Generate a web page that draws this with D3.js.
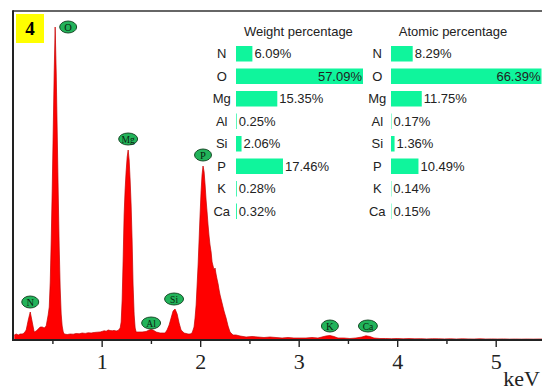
<!DOCTYPE html>
<html>
<head>
<meta charset="utf-8">
<script src="https://cdn.jsdelivr.net/npm/d3@7/dist/d3.min.js"></script>
<style>
  html, body { margin: 0; padding: 0; background: #fff; }
  svg { display: block; }
</style>
</head>
<body>
<svg id="chart" width="542" height="390"></svg>
<script>
// EDS spectrum: energy (keV) and counts
const spectrumKeV = [
  0.113, 0.133, 0.153, 0.173, 0.194, 0.214, 0.234, 0.255, 0.275, 0.295,
  0.315, 0.336, 0.356, 0.376, 0.397, 0.417, 0.437, 0.457, 0.468, 0.478,
  0.488, 0.498, 0.508, 0.518, 0.528, 0.539, 0.549, 0.559, 0.569, 0.579,
  0.589, 0.599, 0.610, 0.620, 0.650, 0.681, 0.711, 0.741, 0.772, 0.802,
  0.833, 0.863, 0.894, 0.924, 0.954, 0.985, 1.005, 1.025, 1.046, 1.066,
  1.086, 1.107, 1.127, 1.147, 1.167, 1.188, 1.198, 1.208, 1.218, 1.228,
  1.238, 1.248, 1.259, 1.269, 1.279, 1.289, 1.299, 1.309, 1.319, 1.330,
  1.340, 1.350, 1.370, 1.411, 1.451, 1.482, 1.502, 1.522, 1.553, 1.593,
  1.624, 1.644, 1.664, 1.685, 1.705, 1.725, 1.745, 1.766, 1.786, 1.806,
  1.837, 1.877, 1.898, 1.918, 1.938, 1.948, 1.959, 1.969, 1.979, 1.989,
  1.999, 2.009, 2.019, 2.029, 2.040, 2.050, 2.060, 2.070, 2.080, 2.090,
  2.100, 2.111, 2.121, 2.131, 2.141, 2.151, 2.161, 2.171, 2.182, 2.192,
  2.202, 2.222, 2.242, 2.263, 2.283, 2.303, 2.334, 2.364, 2.405, 2.466,
  2.526, 2.587, 2.648, 2.709, 2.770, 2.831, 2.892, 2.952, 3.013, 3.074,
  3.135, 3.196, 3.236, 3.277, 3.317, 3.358, 3.399, 3.459, 3.520, 3.581,
  3.642, 3.683, 3.723, 3.764, 3.825, 3.88, 3.94, 4.00, 4.06, 4.12,
  4.18, 4.24, 4.30, 4.36, 4.42, 4.48, 4.54, 4.60, 4.66, 4.72,
  4.78, 4.84, 4.90, 4.96, 5.02, 5.08, 5.14, 5.20, 5.26, 5.32,
  5.38, 5.44, 5.50
];
const spectrumCounts = [
  50, 60, 50, 60, 60, 70, 100, 200, 280, 180,
  80, 90, 110, 130, 130, 120, 140, 250, 330, 580,
  1000, 1500, 2080, 2670, 3130, 2660, 2070, 1470, 930, 520,
  260, 140, 80, 60, 55, 60, 58, 65, 62, 70,
  66, 72, 70, 75, 78, 80, 86, 92, 88, 100,
  95, 92, 96, 90, 95, 120, 180, 400, 800, 1250,
  1500, 1680, 1830, 1900, 1800, 1600, 1350, 1000, 550, 250,
  120, 80, 80, 80, 85, 100, 105, 100, 80, 70,
  70, 70, 100, 150, 220, 290, 310, 260, 170, 100,
  70, 60, 60, 70, 130, 220, 350, 550, 750, 1000,
  1250, 1480, 1650, 1740, 1680, 1550, 1400, 1280, 1150, 1040,
  950, 880, 780, 740, 700, 720, 660, 610, 560, 500,
  450, 370, 290, 220, 140, 80, 50, 50, 40, 30,
  35, 30, 25, 30, 25, 20, 25, 20, 20, 20,
  25, 20, 30, 40, 45, 35, 20, 20, 15, 20,
  30, 42, 35, 20, 15, 15, 13, 15, 12, 14,
  12, 13, 11, 13, 12, 11, 12, 10, 12, 11,
  10, 12, 10, 11, 10, 11, 9, 10, 9, 10,
  9, 10, 9
];

// Peak markers: element, label energy (keV), label height (counts)
const peakElements = ["O", "Mg", "P", "Si", "N", "Al", "K", "Ca"];
const peakLabelKeV = [0.660, 1.269, 2.029, 1.735, 0.275, 1.502, 3.317, 3.703];
const peakLabelCounts = [3130, 2010, 1850, 410, 380, 170, 140, 140];

// Axis ticks
const majorTicks = [1, 2, 3, 4, 5];
const minorTicks = [0.5, 1.5, 2.5, 3.5, 4.5];

// Composition tables
const tableElements = ["N", "O", "Mg", "Al", "Si", "P", "K", "Ca"];
const weightPct = [6.09, 57.09, 15.35, 0.25, 2.06, 17.46, 0.28, 0.32];
const atomicPct = [8.29, 66.39, 11.75, 0.17, 1.36, 10.49, 0.14, 0.15];

const sampleId = "4";

const svg = d3.select("#chart");
const plot = { left: 13, top: 11, right: 542, bottom: 340 };

const x = d3.scaleLinear().domain([0.1, 5.47]).range([plot.left, plot.right]);
const y = d3.scaleLinear().domain([0, 3290]).range([plot.bottom, plot.top]);

svg.append("defs").append("clipPath").attr("id", "plotClip")
  .append("rect")
  .attr("x", plot.left).attr("y", plot.top)
  .attr("width", plot.right - plot.left).attr("height", plot.bottom - plot.top);

// Spectrum
const pts = spectrumKeV.map((e, i) => [e, spectrumCounts[i]]);
const area = d3.area()
  .x(d => x(d[0]))
  .y0(y(0))
  .y1(d => y(d[1]));
const line = d3.line()
  .x(d => x(d[0]))
  .y(d => y(d[1]));

const g = svg.append("g").attr("clip-path", "url(#plotClip)");
g.append("path").datum(pts)
  .attr("d", area)
  .attr("fill", "#ff0000");
g.append("path").datum(pts)
  .attr("d", line)
  .attr("fill", "none")
  .attr("stroke", "#c40000")
  .attr("stroke-width", 0.7);

// Frame: top and left borders, bottom axis line
svg.append("line")
  .attr("x1", plot.left).attr("x2", plot.right)
  .attr("y1", plot.top).attr("y2", plot.top)
  .attr("stroke", "#333").attr("stroke-width", 1.6);
svg.append("line")
  .attr("x1", plot.left).attr("x2", plot.left)
  .attr("y1", plot.top - 0.8).attr("y2", plot.bottom + 1)
  .attr("stroke", "#222").attr("stroke-width", 2);

// X axis
const axisMajor = d3.axisBottom(x)
  .tickValues(majorTicks)
  .tickSize(7)
  .tickSizeOuter(0)
  .tickPadding(6)
  .tickFormat(d3.format("d"));
const axG = svg.append("g")
  .attr("transform", `translate(0,${plot.bottom})`)
  .call(axisMajor);
axG.select(".domain").remove();
axG.selectAll(".tick line").attr("stroke", "#222").attr("stroke-width", 1.4);
axG.selectAll(".tick text")
  .attr("fill", "#222")
  .style("font-family", "'Liberation Serif', 'Times New Roman', serif")
  .style("font-size", "22px");

const axisMinor = d3.axisBottom(x)
  .tickValues(minorTicks)
  .tickSize(4)
  .tickSizeOuter(0)
  .tickFormat("");
const axM = svg.append("g")
  .attr("transform", `translate(0,${plot.bottom})`)
  .call(axisMinor);
axM.select(".domain").remove();
axM.selectAll(".tick line").attr("stroke", "#222").attr("stroke-width", 1.4);

svg.append("line")
  .attr("x1", plot.left - 1).attr("x2", plot.right)
  .attr("y1", plot.bottom).attr("y2", plot.bottom)
  .attr("stroke", "#222").attr("stroke-width", 2);

svg.append("text")
  .attr("x", 540).attr("y", 386)
  .attr("text-anchor", "end")
  .attr("fill", "#222")
  .style("font-family", "'Liberation Serif', 'Times New Roman', serif")
  .style("font-size", "22px")
  .text("keV");

// Peak labels (green ellipses)
peakElements.forEach((el, i) => {
  const cx = x(peakLabelKeV[i]);
  const cy = y(peakLabelCounts[i]);
  const rx = el.length > 1 ? 9.5 : 8.5;
  const lg = svg.append("g");
  lg.append("ellipse")
    .attr("cx", cx).attr("cy", cy)
    .attr("rx", rx).attr("ry", 6)
    .attr("fill", "#22b35a")
    .attr("stroke", "#0d3d1c")
    .attr("stroke-width", 0.9);
  lg.append("text")
    .attr("x", cx).attr("y", cy + 3.5)
    .attr("text-anchor", "middle")
    .attr("fill", "#0a1f10")
    .style("font-family", "'Liberation Serif', 'Times New Roman', serif")
    .style("font-size", el.length > 1 ? "9.5px" : "10.5px")
    .text(el);
});

// Sample id badge
svg.append("rect")
  .attr("x", 16).attr("y", 14)
  .attr("width", 28).attr("height", 29)
  .attr("fill", "#ffff00");
svg.append("text")
  .attr("x", 30).attr("y", 35)
  .attr("text-anchor", "middle")
  .attr("fill", "#000")
  .style("font-family", "'Liberation Serif', 'Times New Roman', serif")
  .style("font-weight", "bold")
  .style("font-size", "19px")
  .text(sampleId);

// Composition tables with data bars
function drawTable(title, values, labelX, barX, titleX, wScale) {
  const tg = svg.append("g")
    .style("font-family", "'Liberation Sans', Arial, sans-serif")
    .style("font-size", "13px");
  tg.append("text")
    .attr("x", titleX).attr("y", 35.5)
    .attr("text-anchor", "middle")
    .attr("fill", "#222")
    .text(title);
  const rowY = d3.scaleLinear().domain([0, 7]).range([53.5, 211]);
  tableElements.forEach((el, i) => {
    const cy = rowY(i);
    tg.append("text")
      .attr("x", labelX).attr("y", cy + 4.6)
      .attr("text-anchor", "middle")
      .attr("fill", "#222")
      .text(el);
    const bw = wScale(values[i]);
    tg.append("rect")
      .attr("x", barX).attr("y", cy - 7.5)
      .attr("width", bw).attr("height", 15.5)
      .attr("fill", "#0ff59c");
    const full = bw >= wScale.range()[1] - 0.01;
    tg.append("text")
      .attr("x", full ? barX + bw - 1 : barX + bw + 2)
      .attr("y", cy + 4.6)
      .attr("text-anchor", full ? "end" : "start")
      .attr("fill", "#222")
      .text(d3.format(".2f")(values[i]) + "%");
  });
}

const weightScale = d3.scaleLinear().domain([0, 47.2]).range([0, 127]).clamp(true);
const atomicScale = d3.scaleLinear().domain([0, 57.5]).range([0, 150.5]).clamp(true);

drawTable("Weight percentage", weightPct, 221.7, 236, 298.4, weightScale);
drawTable("Atomic percentage", atomicPct, 377.3, 391, 453, atomicScale);
</script>
</body>
</html>
